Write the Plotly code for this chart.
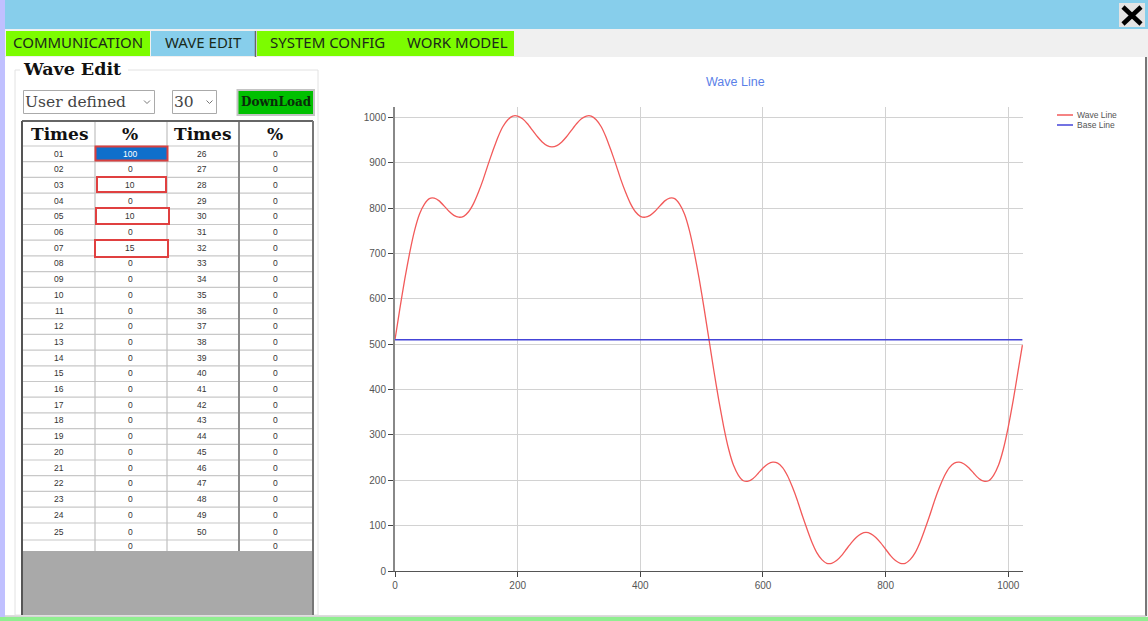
import plotly.graph_objects as go

W, H = 1148, 621

# ---------- chart data ----------
wave_x = [0, 8, 16, 24, 32, 40, 48, 56, 64, 72, 80, 88, 96, 104, 112, 120, 128, 136, 144, 152,
          160, 168, 176, 184, 192, 200, 208, 216, 224, 232, 240, 248, 256, 264, 272, 280, 288,
          296, 304, 312, 320, 328, 336, 344, 352, 360, 368, 376, 384, 392, 400, 408, 416, 424,
          432, 440, 448, 456, 464, 472, 480, 488, 496, 504, 512,
          520, 528, 536, 544, 552, 560, 568, 576, 584, 592, 600, 608, 616, 624, 632, 640, 648,
          656, 664, 672, 680, 688, 696, 704, 712, 720, 728, 736, 744, 752, 760, 768, 776, 784,
          792, 800, 808, 816, 824, 832, 840, 848, 856, 864, 872, 880, 888, 896, 904, 912, 920,
          928, 936, 944, 952, 960, 968, 976, 984, 992, 1000, 1008, 1016, 1023]
wave_y = [510, 579, 644, 702, 751, 787, 809, 821, 822, 816, 805, 793, 784, 780, 782, 792, 810,
          835, 864, 897, 928, 957, 980, 995, 1003, 1003, 997, 986, 972, 958, 946, 938, 935,
          938, 946, 958, 972, 986, 997, 1003, 1003, 995, 980, 957, 928, 897, 864, 835, 810,
          792, 782, 780, 784, 793, 805, 816, 822, 821, 809, 787, 751, 702, 644, 579, 510,
          441, 376, 318, 269, 233, 211, 199, 198, 204, 215, 227, 236, 240, 238, 228, 210, 185,
          156, 123, 92, 63, 40, 25, 17, 17, 23, 34, 48, 62, 74, 82, 85, 82, 74, 62, 48, 34,
          23, 17, 17, 25, 40, 63, 92, 123, 156, 185, 210, 228, 238, 240, 236, 227, 215, 204,
          198, 199, 211, 233, 269, 318, 376, 441, 498]
base_x = [0, 1023]
base_y = [510, 510]
series_names = ["Wave Line", "Base Line"]
series_colors = ["#f25a5a", "#4444d8"]
x_ticks = [0, 200, 400, 600, 800, 1000]
y_ticks = [0, 100, 200, 300, 400, 500, 600, 700, 800, 900, 1000]

# ---------- table / UI content ----------
tabs = ["COMMUNICATION", "WAVE EDIT", "SYSTEM CONFIG", "WORK MODEL"]
header_labels = ["Times", "%", "Times", "%"]
times_left = [f"{i:02d}" for i in range(1, 26)]
times_right = [str(i) for i in range(26, 51)]
pct_left = [100, 0, 10, 0, 10, 0, 15, 0, 0, 0, 0, 0, 0, 0, 0, 0, 0, 0, 0, 0, 0, 0, 0, 0, 0]
pct_right = [0] * 25
combo_labels = ["User defined", "30"]
button_label = "DownLoad"
group_title = "Wave Edit"
chart_title = "Wave Line"

SERIF = "DejaVu Serif"


def px(x):
    return x / W


def py(y):
    return 1 - y / H


shapes, ann = [], []


def rect(x0, y0, x1, y1, fill=None, line=None, lw=1, layer="below"):
    shapes.append(dict(type="rect", xref="paper", yref="paper",
                       x0=px(x0), x1=px(x1), y0=py(y0), y1=py(y1),
                       fillcolor=fill or "rgba(0,0,0,0)",
                       line=dict(color=line or "rgba(0,0,0,0)", width=lw if line else 0),
                       layer=layer))


def seg(x0, y0, x1, y1, color, lw=1, layer="below"):
    shapes.append(dict(type="line", xref="paper", yref="paper",
                       x0=px(x0), x1=px(x1), y0=py(y0), y1=py(y1),
                       line=dict(color=color, width=lw), layer=layer))


def label(x, y, text, size, color="#222", family="Liberation Sans", anchor="center", bold=False):
    ann.append(dict(xref="paper", yref="paper", x=px(x), y=py(y), text=f"<b>{text}</b>" if bold else text,
                    showarrow=False, xanchor=anchor, yanchor="middle",
                    font=dict(size=size, color=color, family=family), borderpad=0, borderwidth=0))


# window chrome
rect(0, 0, W, H, "#f0f0f0")
rect(0, 0, W, 29, "#87ceeb")
rect(0, 0, 5, H, "#c0c0ff")
rect(5, 57, 1146, 616, "#ffffff")
seg(1146, 57, 1146, 616, "#777777", 2)
seg(5, 616, 1146, 616, "#bbbbbb", 1)
rect(0, 617, W, H, "#90ee90")

# close button
rect(1119, 3, 1145, 27, "#e4e4e4")
seg(1123, 7, 1141, 24, "#000000", 4.5)
seg(1141, 7, 1123, 24, "#000000", 4.5)

# tabs
tab_boxes = [(6, 150, "#7cfc00"), (151, 255, "#87ceeb"), (257, 392, "#7cfc00"), (392, 514, "#7cfc00")]
tab_centers = [78.5, 203, 327.5, 457]
for (a, b, c), t, cx in zip(tab_boxes, tabs, tab_centers):
    rect(a, 31, b, 56, c)
    label(cx, 42, t, 15, "#1a2a1a", "Noto Sans")
seg(255.5, 31, 255.5, 57, "#666666", 1.5)

# group box
rect(15, 70, 318, 615, None, "#e2e2e2", 1)
rect(20, 60, 128, 78, "#ffffff")
label(23, 69, group_title, 17.5, "#111", SERIF, "left", True)

# combos and button
rect(23.5, 90.5, 154.5, 113.5, "#ffffff", "#aaaaaa", 1)
label(25, 102, combo_labels[0], 15.5, "#444", SERIF, "left")
rect(172.5, 90.5, 216.5, 113.5, "#ffffff", "#aaaaaa", 1)
label(174, 102, combo_labels[1], 15.5, "#444", SERIF, "left")
for cx in (147, 209.5):
    seg(cx - 3, 100.5, cx, 103.5, "#777777", 1)
    seg(cx, 103.5, cx + 3, 100.5, "#777777", 1)
rect(237.5, 90, 314, 115, "#00c000", "#c4c4c4", 2)
label(276, 102, button_label, 12, "#0a2a0a", SERIF, "center", True)

# table
col_x = [22, 95, 167, 239, 313]
col_c = [59, 130, 202, 275]
row_lines = [146 + 15.7 * i for i in range(24)] + [523, 540]
rect(22, 121, 313, 551, "#ffffff")
rect(22, 551, 313, 615, "#a9a9a9")
for y in row_lines:
    seg(22, y, 313, y, "#c8c8c8", 1.2)
for i, x in enumerate(col_x[1:-1]):
    seg(x, 121, x, 551, "#8a8a8a" if i == 2 else "#c0c0c0", 2 if i == 2 else 1.2)
seg(22, 121, 313, 121, "#666666", 2)
seg(22, 121, 22, 615, "#555555", 2)
seg(313, 121, 313, 615, "#777777", 2)
for cx, t in zip(col_c, header_labels):
    label(cx, 134.5, t, 17, "#111", SERIF, "center", True)

row_centers = [153.5 + 15.7 * i for i in range(24)] + [531.5]
for i, yc in enumerate(row_centers):
    label(col_c[0], yc, times_left[i], 8.5, "#333")
    label(col_c[1], yc, str(pct_left[i]), 8.5, "#ffffff" if i == 0 else "#333")
    label(col_c[2], yc, times_right[i], 8.5, "#333")
    label(col_c[3], yc, str(pct_right[i]), 8.5, "#333")
label(col_c[1], 546, "0", 8.5, "#333")
label(col_c[3], 546, "0", 8.5, "#333")

# highlighted cells
rect(95.5, 146.5, 167.5, 160.5, "#0f6fcb", "#d84040", 2)
rect(97, 177, 166, 192, "#ffffff", "#e04040", 2)
rect(96, 208, 169, 224, "#ffffff", "#e04040", 2)
rect(95, 240, 168, 257, "#ffffff", "#e04040", 2)

# chart title
label(735, 82, chart_title, 12.5, "#5b7fe8")

# legend
for yl, name, col in zip((115, 125), series_names, series_colors):
    seg(1057, yl, 1073, yl, col, 1.5)
    label(1077, yl, name, 8.5, "#555", "Liberation Sans", "left")

fig = go.Figure()
fig.add_trace(go.Scatter(x=wave_x, y=wave_y, mode="lines", name=series_names[0],
                         line=dict(color=series_colors[0], width=1.3, shape="spline", smoothing=0.6)))
fig.add_trace(go.Scatter(x=base_x, y=base_y, mode="lines", name=series_names[1],
                         line=dict(color=series_colors[1], width=1.5)))

fig.update_layout(
    width=W, height=H, autosize=False, showlegend=False,
    margin=dict(l=0, r=0, t=0, b=0, autoexpand=False),
    paper_bgcolor="rgba(0,0,0,0)", plot_bgcolor="rgba(0,0,0,0)",
    shapes=shapes, annotations=ann,
    xaxis=dict(domain=[395 / W, 1023 / W], range=[0, 1024], tickvals=x_ticks, automargin=False,
               showgrid=True, gridcolor="#d2d2d2", gridwidth=1, zeroline=False,
               showline=True, linecolor="#555555", linewidth=1,
               ticks="outside", ticklen=5, tickcolor="#444444",
               tickfont=dict(size=10, color="#555", family="Liberation Sans")),
    yaxis=dict(domain=[py(571), py(107)], range=[0, 1023], tickvals=y_ticks, automargin=False,
               showgrid=True, gridcolor="#d2d2d2", gridwidth=1, zeroline=False,
               showline=True, linecolor="#888888", linewidth=2,
               ticks="outside", ticklen=5, tickcolor="#444444",
               tickfont=dict(size=10, color="#555", family="Liberation Sans")),
)

fig.write_html("out.html", config={"displayModeBar": False},
               post_script="document.body.style.margin='0';document.body.style.overflow='hidden';")
